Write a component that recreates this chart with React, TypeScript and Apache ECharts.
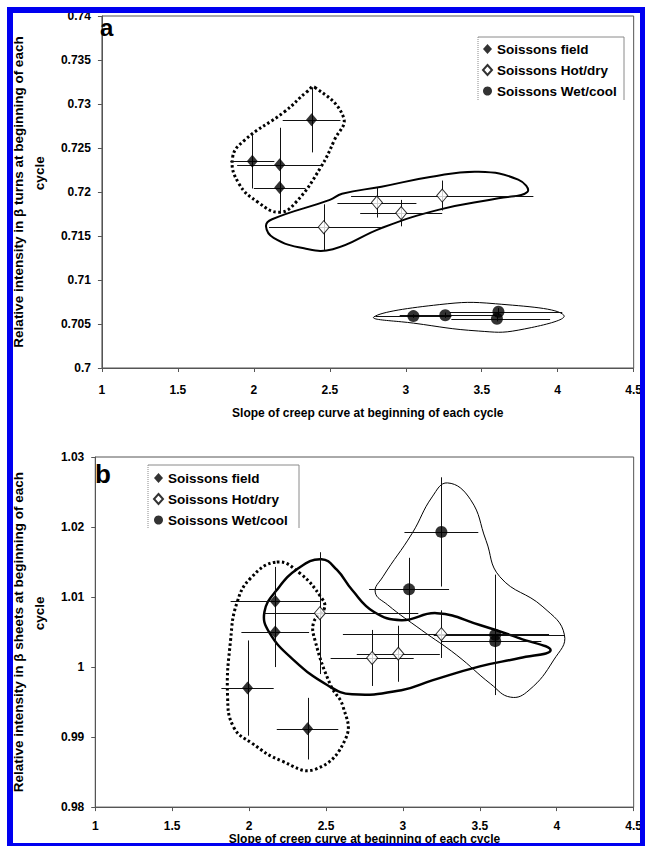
import React, { useEffect, useRef } from 'react';
import * as echarts from 'echarts';

const FONT = 'Liberation Sans, Arial, sans-serif';

const seriesNames = ['Soissons field', 'Soissons Hot/dry', 'Soissons Wet/cool'];

// Panel a: [slope, intensity, x-, x+, y-, y+]
const aField = [
  [1.99, 0.7235, 0.145, 0.145, 0.0031, 0.0031],
  [2.17, 0.7231, 0.28, 0.28, 0.0042, 0.0042],
  [2.17, 0.7205, 0.17, 0.17, 0.0027, 0.0027],
  [2.38, 0.7282, 0.19, 0.19, 0.0037, 0.0037],
];
const aHotDry = [
  [2.46, 0.716, 0.36, 0.38, 0.0026, 0.0026],
  [2.81, 0.7188, 0.26, 0.26, 0.0017, 0.0017],
  [2.97, 0.7176, 0.27, 0.27, 0.0015, 0.0015],
  [3.24, 0.7196, 0.6, 0.6, 0.0017, 0.0017],
];
const aWetCool = [
  [3.05, 0.7059, 0.25, 0.25, 0.0002, 0.0002],
  [3.26, 0.706, 0.3, 0.34, 0.0003, 0.0003],
  [3.61, 0.7064, 0.32, 0.42, 0.0004, 0.0004],
  [3.6, 0.7056, 0.3, 0.35, 0.0003, 0.0003],
];

// Panel b
const bField = [
  [2.17, 1.0094, 0.29, 0.29, 0.0049, 0.0049],
  [2.17, 1.005, 0.22, 0.22, 0.005, 0.005],
  [1.99, 0.997, 0.17, 0.17, 0.0068, 0.0068],
  [2.38, 0.9912, 0.2, 0.2, 0.0044, 0.0044],
];
const bHotDry = [
  [2.46, 1.0077, 0.36, 0.64, 0.0087, 0.0087],
  [2.8, 1.0013, 0.27, 0.27, 0.004, 0.004],
  [2.97, 1.0019, 0.27, 0.27, 0.004, 0.004],
  [3.25, 1.0047, 0.64, 0.7, 0.0034, 0.0034],
];
const bWetCool = [
  [3.04, 1.0111, 0.26, 0.26, 0.0045, 0.0045],
  [3.25, 1.0193, 0.24, 0.24, 0.0078, 0.0078],
  [3.6, 1.0046, 0.4, 0.45, 0.0086, 0.0086],
  [3.6, 1.0037, 0.35, 0.3, 0.0053, 0.0053],
];

// Envelope outlines (data coordinates)
const aFieldEnv = [
  [2.4, 0.7319], [2.59, 0.7285], [2.53, 0.7259], [2.44, 0.7228], [2.28, 0.7189],
  [2.17, 0.7177], [2.03, 0.7188], [1.9, 0.721], [1.86, 0.7239], [1.94, 0.7259],
  [2.2, 0.7291], [2.35, 0.7314],
];
const aHotDryEnv = [
  [2.08, 0.7161], [2.12, 0.7169], [2.5, 0.7191], [2.58, 0.7198], [2.84, 0.7206],
  [3.16, 0.7217], [3.48, 0.7223], [3.74, 0.7214], [3.8, 0.72], [3.61, 0.7193],
  [3.22, 0.718], [2.84, 0.7159], [2.52, 0.7135], [2.33, 0.7136], [2.13, 0.7148],
];
const aWetCoolEnv = [
  [2.79, 0.7058], [3.22, 0.7072], [3.59, 0.7073], [4.04, 0.706], [3.74, 0.7043],
  [3.48, 0.7042], [3.05, 0.7051],
];
const bFieldEnv = [
  [2.18, 1.015], [2.33, 1.0134], [2.47, 1.0099], [2.49, 1.0084], [2.42, 1.0064],
  [2.43, 1.0037], [2.53, 0.9974], [2.61, 0.9944], [2.63, 0.9899], [2.43, 0.9854],
  [2.21, 0.9866], [2.02, 0.9891], [1.9, 0.9914], [1.86, 0.9959], [1.88, 1.0039],
  [1.92, 1.0091], [2.01, 1.0127],
];
const bHotDryEnv = [
  [2.47, 1.0154], [2.57, 1.0139], [2.67, 1.011], [2.81, 1.0079], [2.99, 1.0067],
  [3.22, 1.0077], [3.5, 1.006], [3.76, 1.0041], [3.96, 1.0024], [3.76, 1.0013],
  [3.5, 1.0001], [3.19, 0.9981], [2.99, 0.9967], [2.67, 0.9961], [2.51, 0.9974],
  [2.29, 1.001], [2.13, 1.005], [2.1, 1.0079], [2.18, 1.011], [2.32, 1.0141],
];
const bWetCoolEnv = [
  [3.29, 1.0263], [3.44, 1.0239], [3.54, 1.0181], [3.63, 1.0129], [3.91, 1.0086],
  [4.05, 1.0046], [3.98, 1.001], [3.82, 0.9967], [3.7, 0.9957], [3.57, 0.9976],
  [3.35, 1.0017], [3.12, 1.0053], [2.9, 1.0089], [2.82, 1.0107], [2.87, 1.0129],
  [3.06, 1.0191], [3.19, 1.0243],
];

const NB = '\u00a0'.repeat(10);
const xName = 'Slope of creep curve at beginning of each cycle';
const yNameA = 'Relative intensity in \u03b2 turns at beginning of each\n' + NB + 'cycle';
const yNameB = 'Relative intensity in \u03b2 sheets at beginning of each\n' + NB + 'cycle';

const px = (v: number) => Math.round(v) + 0.5;

function errSeries(data: number[][], idx: number) {
  return {
    type: 'custom',
    xAxisIndex: idx,
    yAxisIndex: idx,
    z: 2,
    silent: true,
    data,
    encode: { x: 0, y: 1 },
    renderItem: (_p: any, api: any) => {
      const x = api.value(0);
      const y = api.value(1);
      const l = api.coord([x - api.value(2), y]);
      const r = api.coord([x + api.value(3), y]);
      const b = api.coord([x, y - api.value(4)]);
      const t = api.coord([x, y + api.value(5)]);
      return {
        type: 'group',
        children: [
          { type: 'line', shape: { x1: l[0], y1: px(l[1]), x2: r[0], y2: px(r[1]) }, style: { stroke: '#111', lineWidth: 1 } },
          { type: 'line', shape: { x1: px(b[0]), y1: b[1], x2: px(t[0]), y2: t[1] }, style: { stroke: '#111', lineWidth: 1 } },
        ],
      };
    },
  };
}

function envSeries(pts: number[][], idx: number, style: any) {
  return {
    type: 'custom',
    xAxisIndex: idx,
    yAxisIndex: idx,
    z: 1,
    silent: true,
    data: [pts[0]],
    encode: { x: 0, y: 1 },
    renderItem: (_p: any, api: any) => ({
      type: 'polygon',
      shape: { points: pts.map((p) => api.coord(p)), smooth: 0.45 },
      style: { fill: 'none', stroke: '#000', ...style },
    }),
  };
}

function scatterSeries(data: number[][], idx: number, kind: number) {
  const base: any = {
    type: 'scatter',
    name: seriesNames[kind],
    xAxisIndex: idx,
    yAxisIndex: idx,
    z: 3,
    silent: true,
    data: data.map((d) => [d[0], d[1]]),
  };
  if (kind === 0) {
    base.symbol = 'diamond';
    base.symbolSize = [11, 13];
    base.itemStyle = { color: '#000' };
  } else if (kind === 1) {
    base.symbol = 'diamond';
    base.symbolSize = [11, 13];
    base.itemStyle = { color: '#fff', borderColor: '#000', borderWidth: 1 };
  } else {
    base.symbol = 'circle';
    base.symbolSize = 12;
    base.itemStyle = { color: '#000' };
  }
  return base;
}

const axisText = { color: '#000', fontWeight: 'bold', fontSize: 12, fontFamily: FONT };

function xAxisCfg(idx: number, nameGap: number, margin: number) {
  return {
    gridIndex: idx,
    type: 'value',
    min: 1,
    max: 4.5,
    interval: 0.5,
    name: xName,
    nameLocation: 'middle',
    nameGap,
    nameTextStyle: { ...axisText },
    axisLine: { show: true, lineStyle: { color: '#555', width: 1 } },
    axisTick: { show: true, length: 4, lineStyle: { color: '#555' } },
    axisLabel: { ...axisText, margin },
    splitLine: { show: false },
  };
}

function yAxisCfg(idx: number, min: number, max: number, interval: number, name: string) {
  return {
    gridIndex: idx,
    type: 'value',
    min,
    max,
    interval,
    name,
    nameLocation: 'middle',
    nameRotate: 90,
    nameGap: 44,
    nameTextStyle: { ...axisText, fontSize: 13.5, lineHeight: 21 },
    axisLine: { show: true, lineStyle: { color: '#555', width: 1 } },
    axisTick: { show: true, length: 4, lineStyle: { color: '#555' } },
    axisLabel: { ...axisText, margin: 11 },
    splitLine: { show: false },
  };
}

function legendCfg(left: number, top: number) {
  return {
    left,
    top,
    padding: 0,
    orient: 'vertical',
    itemWidth: 9,
    itemHeight: 10,
    itemGap: 7,
    selectedMode: false,
    data: seriesNames,
    textStyle: { color: '#000', fontWeight: 'bold', fontSize: 13.5, fontFamily: FONT, lineHeight: 14 },
  };
}

function legendBox(x: number, y: number, w: number, h: number) {
  return [
    { type: 'polyline', z: 50, shape: { points: [[x, y], [x + w, y], [x + w, y + h]] }, style: { stroke: '#8a8a8a', lineWidth: 1, fill: 'none' } },
    { type: 'line', z: 50, shape: { x1: x, y1: y, x2: x, y2: y + h }, style: { stroke: '#8a8a8a', lineWidth: 1, lineDash: [1, 1] } },
  ];
}

export default function App() {
  const ref = useRef<HTMLDivElement>(null);
  useEffect(() => {
    if (!ref.current) return;
    const chart = echarts.init(ref.current, null, { renderer: 'svg' });
    const BLUE = '#0000f0';
    chart.setOption({
      animation: false,
      backgroundColor: '#fff',
      grid: [
        { left: 93, top: 16, width: 546, height: 352, show: true, borderColor: '#555', borderWidth: 1 },
        { left: 88, top: 457, width: 549, height: 361, show: true, borderColor: '#555', borderWidth: 1 },
      ],
      xAxis: [xAxisCfg(0, 39, 16), xAxisCfg(1, 25, 13)],
      yAxis: [
        yAxisCfg(0, 0.7, 0.74, 0.005, yNameA),
        yAxisCfg(1, 0.98, 1.03, 0.01, yNameB),
      ],
      legend: [legendCfg(482, 42), legendCfg(153, 471)],
      series: [
        envSeries(aFieldEnv, 0, { lineWidth: 3, lineDash: [2.5, 2.5] }),
        envSeries(aHotDryEnv, 0, { lineWidth: 2 }),
        envSeries(aWetCoolEnv, 0, { lineWidth: 1 }),
        envSeries(bFieldEnv, 1, { lineWidth: 3, lineDash: [2.5, 2.5] }),
        envSeries(bHotDryEnv, 1, { lineWidth: 2.5 }),
        envSeries(bWetCoolEnv, 1, { lineWidth: 1 }),
        errSeries(aField, 0),
        errSeries(aHotDry, 0),
        errSeries(aWetCool, 0),
        errSeries(bField, 1),
        errSeries(bHotDry, 1),
        errSeries(bWetCool, 1),
        scatterSeries(aField, 0, 0),
        scatterSeries(aHotDry, 0, 1),
        scatterSeries(aWetCool, 0, 2),
        scatterSeries(bField, 1, 0),
        scatterSeries(bHotDry, 1, 1),
        scatterSeries(bWetCool, 1, 2),
      ],
      graphic: [
        { type: 'text', z: 60, style: { x: 100, y: 27, text: 'a', font: 'bold 24px ' + FONT, fill: '#000', verticalAlign: 'middle' } },
        { type: 'text', z: 60, style: { x: 95, y: 474, text: 'b', font: 'bold 26px ' + FONT, fill: '#000', verticalAlign: 'middle' } },
        ...legendBox(478, 37, 146, 63),
        ...legendBox(148, 465, 151, 63),
        { type: 'rect', z: 100, shape: { x: 7, y: 7, width: 638, height: 6 }, style: { fill: BLUE } },
        { type: 'rect', z: 100, shape: { x: 7, y: 7, width: 6, height: 839 }, style: { fill: BLUE } },
        { type: 'rect', z: 100, shape: { x: 640, y: 7, width: 5, height: 839 }, style: { fill: BLUE } },
        { type: 'rect', z: 100, shape: { x: 7, y: 843, width: 638, height: 3 }, style: { fill: BLUE } },
      ],
    });
    return () => chart.dispose();
  }, []);
  return (
    <div
      ref={ref}
      style={{ position: 'absolute', left: 0, top: 0, width: 645, height: 846, background: '#fff' }}
    />
  );
}
